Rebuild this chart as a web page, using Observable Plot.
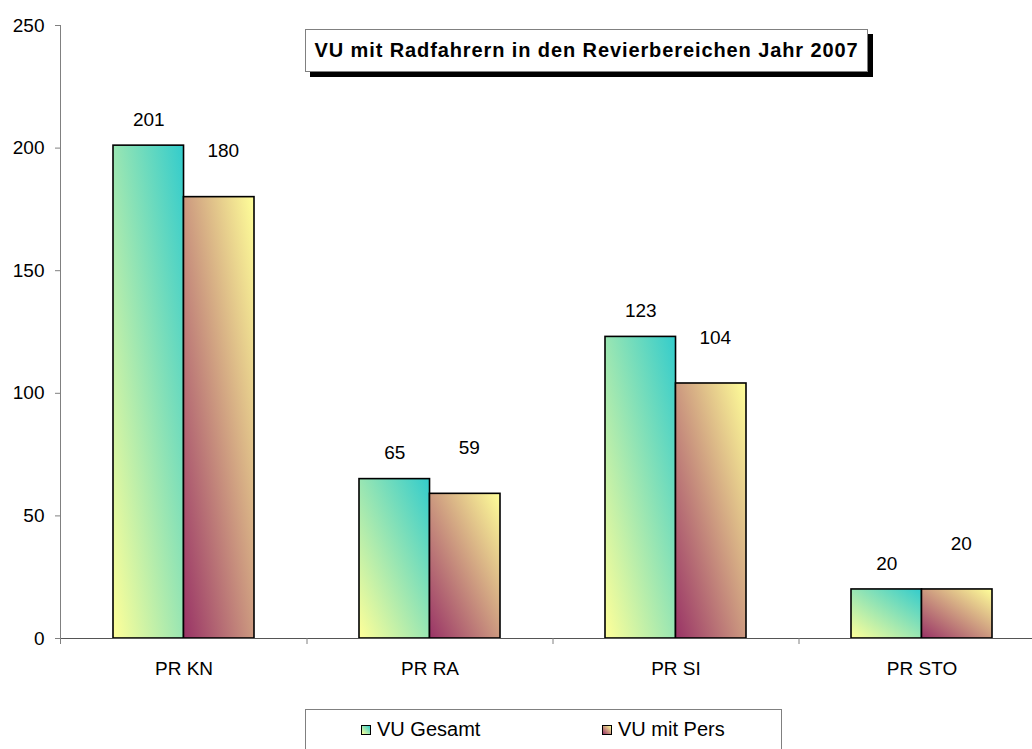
<!DOCTYPE html>
<html>
<head>
<meta charset="utf-8">
<script src="https://cdn.jsdelivr.net/npm/d3@7"></script>
<script src="https://cdn.jsdelivr.net/npm/@observablehq/plot@0.6"></script>
<style>
  html, body { margin: 0; padding: 0; background: #fff; overflow: hidden; }
  #wrap { position: relative; width: 1032px; height: 749px; font-family: "Liberation Sans", Arial, sans-serif; }
  #title {
    position: absolute; left: 305px; top: 29px; width: 561px; height: 41px;
    border: 1px solid #808080; background: #fff;
    box-shadow: 5px 5px 0 #000;
    font-weight: bold; font-size: 20px; letter-spacing: 0.9px;
    display: flex; align-items: center; justify-content: center; white-space: nowrap;
  }
  #legend {
    position: absolute; left: 305px; top: 709px; width: 475px; height: 50px;
    border: 1px solid #808080; background: #fff; font-size: 20px;
  }
  .item { position: absolute; top: 8px; display: flex; align-items: center; white-space: nowrap; }
  .sw { width: 8px; height: 8px; border: 1px solid #000; margin-right: 6px; }
</style>
</head>
<body>
<div id="wrap">
  <div id="chart"></div>
  <div id="title"></div>
  <div id="legend"></div>
</div>
<script>
const categories = ["PR KN", "PR RA", "PR SI", "PR STO"];
const seriesNames = ["VU Gesamt", "VU mit Pers"];
const gesamt = [201, 65, 123, 20];
const mitPers = [180, 59, 104, 20];
const yTicks = [0, 50, 100, 150, 200, 250];
const titleText = "VU mit Radfahrern in den Revierbereichen Jahr 2007";

const gradStops = {
  gradGesamt: ["#FFFF99", "#33CCCC"],
  gradPers: ["#993366", "#FFFF99"]
};

const xRange = [60, 1044];
const step = (xRange[1] - xRange[0]) / categories.length;
const padInner = 0.427;
const bandwidth = step * (1 - padInner);

function defs() {
  const d = d3.create("svg:defs");
  for (const [id, [c0, c1]] of Object.entries(gradStops)) {
    const g = d.append("linearGradient").attr("id", id)
      .attr("x1", 0).attr("y1", 1).attr("x2", 1).attr("y2", 0);
    g.append("stop").attr("offset", "0%").attr("stop-color", c0);
    g.append("stop").attr("offset", "100%").attr("stop-color", c1);
  }
  return d.node();
}

const chart = Plot.plot({
  width: 1032,
  height: 700,
  marginLeft: 60,
  marginTop: 25,
  marginBottom: 62,
  marginRight: 0,
  style: { fontFamily: "'Liberation Sans', Arial, sans-serif", fontSize: "19px", color: "#000", overflow: "visible" },
  x: { domain: categories, range: xRange, paddingInner: padInner, paddingOuter: padInner / 2, label: null },
  y: { domain: [0, 250], label: null },
  marks: [
    defs,
    Plot.barY(categories, {
      x: d => d, y: (d, i) => gesamt[i],
      fill: "url(#gradGesamt)", stroke: "#000", strokeWidth: 1.6,
      insetRight: bandwidth / 2
    }),
    Plot.barY(categories, {
      x: d => d, y: (d, i) => mitPers[i],
      fill: "url(#gradPers)", stroke: "#000", strokeWidth: 1.6,
      insetLeft: bandwidth / 2
    }),
    Plot.ruleY([0], { stroke: "#555", strokeWidth: 1 }),
    Plot.frame({ anchor: "left", stroke: "#808080", insetBottom: -5 }),
    Plot.axisY({ ticks: yTicks, tickSize: 5, tickPadding: 11, stroke: "#808080", fill: "#000", label: null, fontSize: 19 }),
    Plot.axisX({ tickSize: 0, tickPadding: 23, fill: "#000", label: null, fontSize: 19 }),
    Plot.axisX({ ticks: categories.slice(1), tickSize: 6, tickFormat: () => "", dx: -step / 2, stroke: "#808080", label: null }),
    Plot.text(categories, {
      x: d => d, y: (d, i) => gesamt[i], text: (d, i) => String(gesamt[i]),
      dx: -bandwidth / 4, dy: -26, fontSize: 19, fill: "#000"
    }),
    Plot.text(categories, {
      x: d => d, y: (d, i) => mitPers[i], text: (d, i) => String(mitPers[i]),
      dx: bandwidth / 4 + 4, dy: -46, fontSize: 19, fill: "#000"
    })
  ]
});
document.getElementById("chart").appendChild(chart);
document.getElementById("title").textContent = titleText;

const legend = document.getElementById("legend");
const legendLeft = [55, 296];
const legendGrad = [
  "linear-gradient(to top right, #FFFF99, #33CCCC)",
  "linear-gradient(to top right, #993366, #FFFF99)"
];
seriesNames.forEach((name, i) => {
  const item = document.createElement("div");
  item.className = "item";
  item.style.left = legendLeft[i] + "px";
  const sw = document.createElement("div");
  sw.className = "sw";
  sw.style.background = legendGrad[i];
  const t = document.createElement("span");
  t.textContent = name;
  item.appendChild(sw);
  item.appendChild(t);
  legend.appendChild(item);
});
</script>
</body>
</html>
